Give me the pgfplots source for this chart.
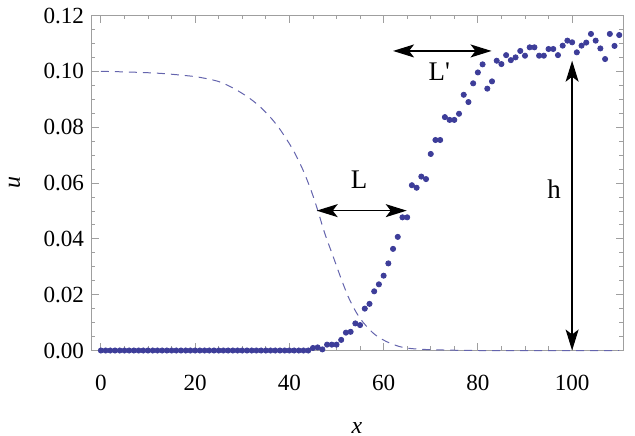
\documentclass[border=0pt]{standalone}
\usepackage{pgfplots}
\pgfplotsset{compat=1.18}
\usepackage{fontspec}
\setmainfont{Liberation Serif}
\usetikzlibrary{arrows.meta}
\definecolor{mmablue}{rgb}{0.24,0.24,0.6}
\begin{document}
\begin{tikzpicture}
\useasboundingbox (-45.5bp,-42.75bp) rectangle (272bp,175.25bp); % match 635x436 with some margin
\begin{axis}[
    scale only axis,
    width=266bp, height=167.5bp,
    xmin=-2.1, xmax=110.8,
    ymin=0, ymax=0.12,
    clip=false,
    xtick={0,20,...,100},
    ytick={0,0.02,...,0.12},
    minor x tick num=3,
    minor y tick num=3,
    tick align=inside,
    major tick length=3.75bp,
    minor tick length=2bp,
    axis line style={gray!75},
    tick style={gray!75, line width=0.4pt},
    /pgf/number format/assume math mode=true,
    tick label style={font=\fontsize{11.6}{13}\selectfont},
    xticklabel style={yshift=-9bp},
    yticklabel style={/pgf/number format/fixed,
        /pgf/number format/fixed zerofill,
        /pgf/number format/precision=2},
    scaled y ticks=false,
    xlabel={\textit{x}},
    ylabel={\textit{u}},
    every axis x label/.style={at={(axis description cs:0.5,0)}, anchor=base, yshift=-41.5bp,
        font=\fontsize{12}{13}\selectfont},
    every axis y label/.style={at={(axis description cs:0,0.5)}, xshift=-35.5bp, rotate=90, anchor=base,
        font=\fontsize{12}{13}\selectfont},
]
% initial profile (dashed)
\addplot[mmablue!80, line width=0.5pt, dash pattern=on 4bp off 3bp, smooth] coordinates {
 (0,0.1) (5,0.0998) (10,0.0995) (14,0.0991) (20,0.0981) (24,0.0968) (26,0.0957)
 (28.8,0.0933) (31.6,0.0903) (34.1,0.0868) (36.4,0.0827) (38.3,0.0785) (40.8,0.0718)
 (42.9,0.0646) (44.7,0.0569) (46,0.0503) (47.5,0.0420) (49.3,0.0336) (51.1,0.0252)
 (52.8,0.0181) (55,0.0115) (57.8,0.0062) (60.6,0.0032) (64.1,0.0011) (68.4,0.0004)
 (75,0.0001) (80,0) (110,0)
};
% simulated front (dots)
\addplot[only marks, mark=*, mark size=1.3bp, mmablue, mark options={draw=mmablue, fill=mmablue}] coordinates {
 (0,0) (1,0) (2,0) (3,0) (4,0) (5,0) (6,0) (7,0) (8,0) (9,0)
 (10,0) (11,0) (12,0) (13,0) (14,0) (15,0) (16,0) (17,0) (18,0) (19,0)
 (20,0) (21,0) (22,0) (23,0) (24,0) (25,0) (26,0) (27,0) (28,0) (29,0)
 (30,0) (31,0) (32,0) (33,0) (34,0) (35,0) (36,0) (37,0) (38,0) (39,0)
 (40,0) (41,0) (42,0) (43,0) (44,0)
 (45,0.0009) (46,0.0011) (47,0.0004) (48,0.0021) (49,0.0021) (50,0.0021)
 (51,0.0038) (52,0.0064) (53,0.0067) (54,0.0097) (55,0.0091) (56,0.0150)
 (57,0.0167) (58,0.0212) (59,0.0237) (60,0.0268) (61,0.0312) (62,0.0364)
 (63,0.0407) (64,0.0477) (65,0.0477) (66,0.0592) (67,0.0583) (68,0.0623)
 (69,0.0614) (70,0.0704) (71,0.0754) (72,0.0754) (73,0.0836) (74,0.0826)
 (75,0.0826) (76,0.0848) (77,0.0916) (78,0.0890) (79,0.0957) (80,0.0996)
 (81,0.1025) (82,0.0938) (83,0.0964) (84,0.1038) (85,0.1026) (86,0.1058)
 (87,0.1040) (88,0.1050) (89,0.1073) (90,0.1056) (91,0.1086) (92,0.1086)
 (93,0.1056) (94,0.1056) (95,0.1080) (96,0.1080) (97,0.1058) (98,0.1092)
 (99,0.1110) (100,0.1104) (101,0.1068) (102,0.1092) (103,0.1103) (104,0.1134)
 (105,0.1110) (106,0.1082) (107,0.1044) (108,0.1134) (109,0.1091) (110,0.1130)
};
% annotations
\draw[line width=0.65pt, {Stealth[length=10.5bp,width=6.5bp,inset=2.5bp]}-{Stealth[length=10.5bp,width=6.5bp,inset=2.5bp]}]
  (axis cs:45.8,0.0501) -- (axis cs:64.9,0.0501);
\draw[line width=0.65pt, {Stealth[length=10.5bp,width=6.5bp,inset=2.5bp]}-{Stealth[length=10.5bp,width=6.5bp,inset=2.5bp]}]
  (axis cs:62.0,0.1073) -- (axis cs:82.9,0.1073);
\draw[line width=0.65pt, {Stealth[length=10.5bp,width=6.5bp,inset=2.5bp]}-{Stealth[length=10.5bp,width=6.5bp,inset=2.5bp]}]
  (axis cs:100,0.1038) -- (axis cs:100,0);
\node[font=\fontsize{13.5}{15}\selectfont] at (axis cs:54.8,0.0612) {L};
\node[font=\fontsize{13.5}{15}\selectfont] at (axis cs:71.8,0.0999) {L\textquotesingle};
\node[font=\fontsize{13.5}{15}\selectfont] at (axis cs:96.2,0.0578) {h};
\end{axis}
\end{tikzpicture}
\end{document}
